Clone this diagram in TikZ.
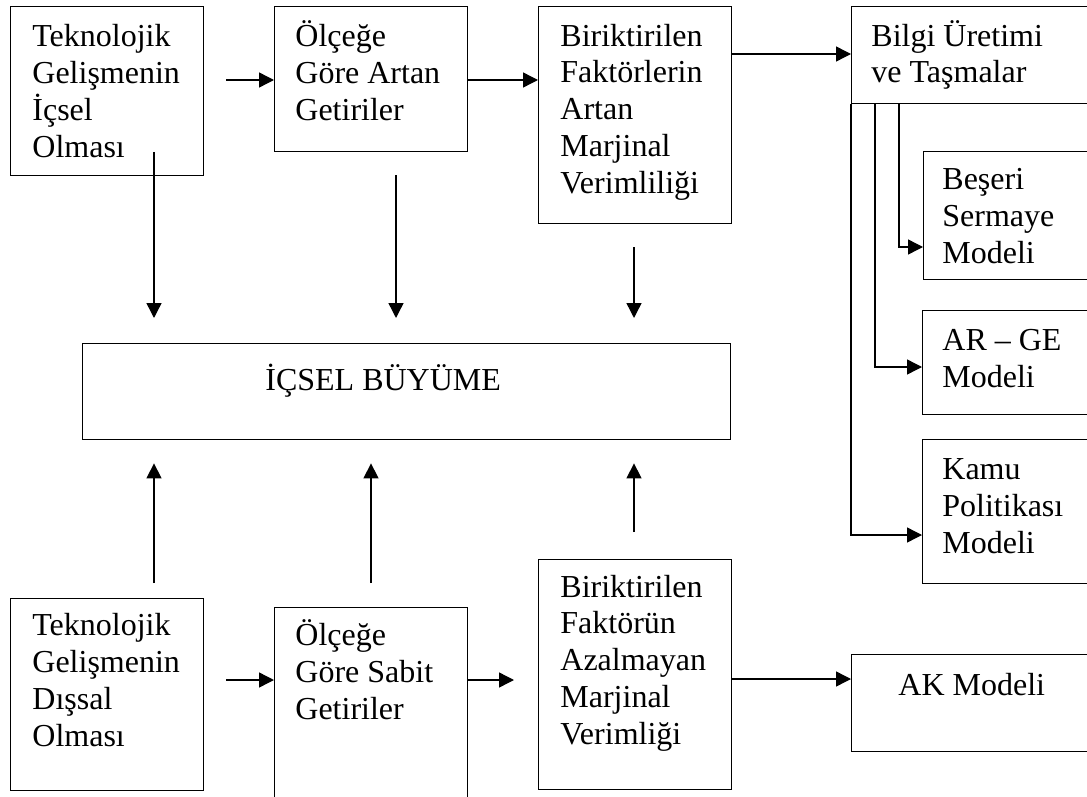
\documentclass[tikz,border=0pt]{standalone}
\usepackage{fontspec}
\setmainfont{Liberation Serif}
\usetikzlibrary{arrows.meta}
\begin{document}
\begin{tikzpicture}[x=0.5pt,y=-0.5pt,
  box/.style={draw,line width=0.7pt,inner sep=0pt,anchor=north west},
  txt/.style={inner sep=0pt,anchor=base west,align=left,font=\fontsize{16}{18.35}\selectfont},
  ln/.style={line width=0.7pt},
  arr/.style={line width=0.7pt,-{Triangle[length=7.5pt,width=7.5pt]}}]
\useasboundingbox[fill=white] (0,0) rectangle (1087,797);
% boxes
\node[box,minimum width=96.5pt,minimum height=84.5pt] (b1) at (10,6) {};
\node[box,minimum width=96.5pt,minimum height=72.5pt] (b2) at (274,6) {};
\node[box,minimum width=96.5pt,minimum height=108.5pt] (b3) at (538,6) {};
\node[box,minimum width=125pt,minimum height=48.5pt] (bilgi) at (851,6) {};
\node[box,minimum width=90pt,minimum height=64pt] (beseri) at (923,151) {};
\node[box,minimum width=90pt,minimum height=52pt] (arge) at (922,310) {};
\node[box,minimum width=90pt,minimum height=72pt] (kamu) at (922,439) {};
\node[box,minimum width=324pt,minimum height=48pt] (buyume) at (82,343) {};
\node[box,minimum width=96.5pt,minimum height=96pt] (b5) at (10,598) {};
\node[box,minimum width=96.5pt,minimum height=110pt] (b6) at (274,607) {};
\node[box,minimum width=96.5pt,minimum height=115pt] (b7) at (538,559) {};
\node[box,minimum width=125pt,minimum height=48.5pt] (ak) at (851,654) {};
% texts (anchor = baseline of last line)
\node[txt] (t1) at (32,157) {Teknolojik\\Gelişmenin\\İçsel\\Olması};
\node[txt] (t2) at (295,120) {Ölçeğe\\Göre Artan\\Getiriler};
\node[txt] (t3) at (560,193) {Biriktirilen\\Faktörlerin\\Artan\\Marjinal\\Verimliliği};
\node[txt] (t4) at (871,83) {Bilgi Üretimi\\ve Taşmalar};
\node[txt] (t5) at (942,263) {Beşeri\\Sermaye\\Modeli};
\node[txt] (t6) at (942,387) {AR – GE\\Modeli};
\node[txt] (t7) at (942,553) {Kamu\\Politikası\\Modeli};
\node[txt] (t8) at (265,390) {İÇSEL BÜYÜME};
\node[txt] (t9) at (32,746) {Teknolojik\\Gelişmenin\\Dışsal\\Olması};
\node[txt] (t10) at (295,719) {Ölçeğe\\Göre Sabit\\Getiriler};
\node[txt] (t11) at (560,744) {Biriktirilen\\Faktörün\\Azalmayan\\Marjinal\\Verimliği};
\node[txt] (t12) at (898,695) {AK Modeli};
% connector start points
\coordinate (h1) at (226,80);
\coordinate (h2) at (467,80);
\coordinate (h3) at (731,54);
\coordinate (h4) at (226,680);
\coordinate (h5) at (467,680);
\coordinate (h5e) at (514,680);
\coordinate (h6) at (731,679);
\coordinate (k1) at (851,535);
\coordinate (g1) at (875,367);
\coordinate (s1) at (899,247);
\coordinate (d1) at (154,152);
\coordinate (d2) at (396,175);
\coordinate (d3) at (634,247);
\coordinate (u1) at (154,583);
\coordinate (u2) at (371,583);
\coordinate (u3) at (634,532);
% connectors
\draw[arr] (h1) -- (h1 -| b2.west);
\draw[arr] (h2) -- (h2 -| b3.west);
\draw[arr] (h3) -- (h3 -| bilgi.west);
\draw[arr] (h4) -- (h4 -| b6.west);
\draw[arr] (h5) -- (h5e);
\draw[arr] (h6) -- (h6 -| ak.west);
\draw[arr] (bilgi.south west) -- (k1) -- (k1 -| kamu.west);
\draw[arr] (g1 |- bilgi.south) -- (g1) -- (g1 -| arge.west);
\draw[arr] (s1 |- bilgi.south) -- (s1) -- (s1 -| beseri.west);
\draw[arr,shorten >=12.5pt] (d1) -- (d1 |- buyume.north);
\draw[arr,shorten >=12.5pt] (d2) -- (d2 |- buyume.north);
\draw[arr,shorten >=12.5pt] (d3) -- (d3 |- buyume.north);
\draw[arr,shorten >=11.5pt] (u1) -- (u1 |- buyume.south);
\draw[arr,shorten >=11.5pt] (u2) -- (u2 |- buyume.south);
\draw[arr,shorten >=11.5pt] (u3) -- (u3 |- buyume.south);
\end{tikzpicture}
\end{document}
